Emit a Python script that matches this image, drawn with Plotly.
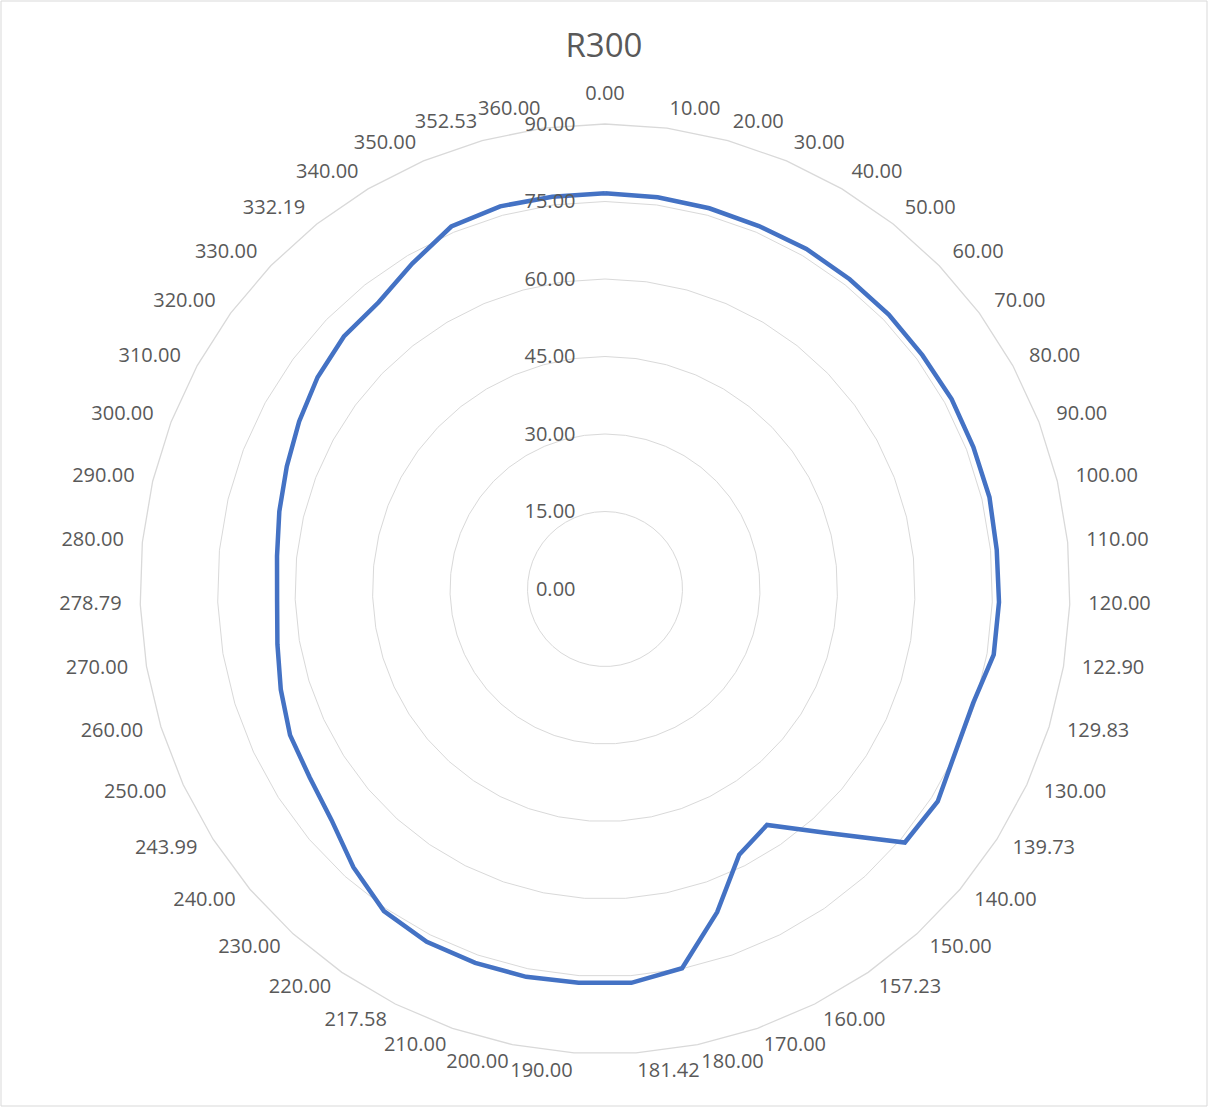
import math
import plotly.graph_objects as go

categories = ["0.00", "10.00", "20.00", "30.00", "40.00", "50.00", "60.00", "70.00", "80.00",
              "90.00", "100.00", "110.00", "120.00", "122.90", "129.83", "130.00", "139.73",
              "140.00", "150.00", "157.23", "160.00", "170.00", "180.00", "181.42", "190.00",
              "200.00", "210.00", "217.58", "220.00", "230.00", "240.00", "243.99", "250.00",
              "260.00", "270.00", "278.79", "280.00", "290.00", "300.00", "310.00", "320.00",
              "330.00", "332.19", "340.00", "350.00", "352.53", "360.00"]

r300 = [76.6, 76.5, 76.4, 76.3, 76.5, 76.4, 76.4, 76.3, 76.5,
        76.4, 76.5, 76.2, 76.3, 76.3, 74.6, 74.8, 76.4,
        76.0, 63.6, 55.4, 57.6, 66.2, 74.9, 76.4, 76.4,
        76.6, 76.6, 76.5, 75.6, 72.6, 69.3, 67.8, 67.2,
        65.7, 64.3, 63.5, 63.8, 64.8, 66.0, 67.5, 69.1,
        70.3, 70.7, 73.2, 76.2, 76.8, 76.6]

radial_ticks = [0, 15, 30, 45, 60, 75, 90]
RMAX = 90

W, H = 1208, 1107
# plotting square holds the label ring (radius 500 px) around the chart centre
L, R, T, B = 105, 103, 89, 18
PLOT = 1000
INNER = 465                       # radar radius in px
PAD = (PLOT / 2 - INNER) / PLOT   # domain inset of the radar
LABEL_R = 93.6                    # where category labels sit (data units)

FONT = "Open Sans"
GREY = "#595959"
GRID = "#D9D9D9"

n = len(categories)
positions = []
for i in range(n):
    s = math.sin(2 * math.pi * i / n)
    if s > 0.01:
        positions.append("middle right")
    elif s < -0.01:
        positions.append("middle left")
    else:
        positions.append("top center")

fig = go.Figure()
fig.add_trace(go.Scatterpolar(
    r=r300 + [r300[0]],
    theta=categories + [categories[0]],
    mode="lines",
    line=dict(color="#4472C4", width=4.5),
    name="R300",
    showlegend=False,
    subplot="polar",
))
# category labels, on an invisible outer polar frame sharing the same centre
fig.add_trace(go.Scatterpolar(
    r=[LABEL_R] * n,
    theta=categories,
    mode="text",
    text=categories,
    textposition=positions,
    textfont=dict(family=FONT, size=20, color=GREY),
    cliponaxis=False,
    showlegend=False,
    hoverinfo="skip",
    subplot="polar2",
))

angular_common = dict(
    type="category",
    categoryorder="array",
    categoryarray=categories,
    rotation=90,
    direction="clockwise",
    showgrid=False,
    ticks="",
    showticklabels=False,
)

fig.update_layout(
    width=W, height=H,
    margin=dict(l=L, r=R, t=T, b=B),
    paper_bgcolor="white",
    plot_bgcolor="white",
    font=dict(family=FONT, color=GREY, size=20),
    title=dict(text="R300", x=0.5, xanchor="center", y=1 - 45 / H, yanchor="middle",
               font=dict(family=FONT, size=33, color=GREY)),
    polar=dict(
        domain=dict(x=[PAD, 1 - PAD], y=[PAD, 1 - PAD]),
        bgcolor="white",
        gridshape="linear",
        angularaxis=dict(**angular_common, showline=True, linecolor=GRID, linewidth=1.3),
        radialaxis=dict(
            range=[0, RMAX],
            tickvals=radial_ticks,
            ticktext=[f"{v:.2f}" for v in radial_ticks],
            angle=90,
            tickangle=90,
            side="counterclockwise",
            showline=False,
            ticks="outside",
            ticklen=22,
            tickcolor="rgba(0,0,0,0)",
            gridcolor=GRID,
            gridwidth=1.3,
            tickfont=dict(family=FONT, size=20, color=GREY),
        ),
    ),
    polar2=dict(
        domain=dict(x=[0, 1], y=[0, 1]),
        bgcolor="rgba(0,0,0,0)",
        gridshape="linear",
        angularaxis=dict(**angular_common, showline=False),
        radialaxis=dict(range=[0, RMAX * (PLOT / 2) / INNER], visible=False,
                        showgrid=False, showline=False, showticklabels=False, ticks=""),
    ),
    shapes=[dict(type="rect", xref="paper", yref="paper",
                 x0=-(L - 1) / (W - L - R), x1=1 + (R - 1) / (W - L - R),
                 y0=-(B - 1) / (H - T - B), y1=1 + (T - 1) / (H - T - B),
                 line=dict(color=GRID, width=1), fillcolor="rgba(0,0,0,0)", layer="below")],
)

fig.write_html("out.html", config={"displayModeBar": False},
               post_script="document.body.style.margin='0';")
